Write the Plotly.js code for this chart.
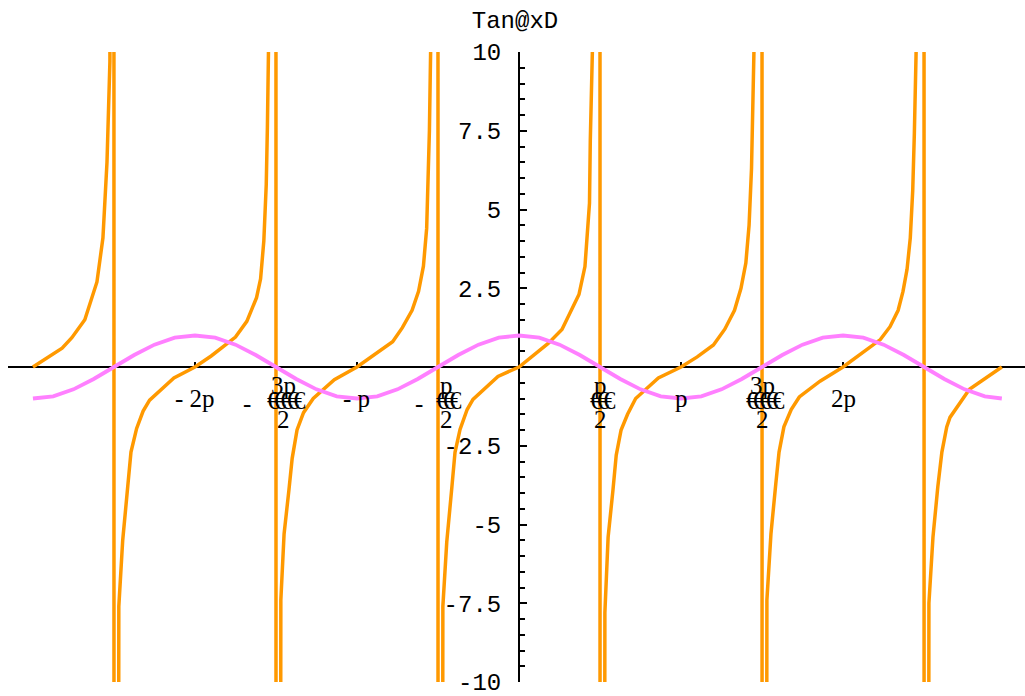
<!DOCTYPE html>
<html>
<head>
<meta charset="utf-8">
<script src="https://cdn.plot.ly/plotly-3.0.1.min.js"></script>
<style>body{margin:0;background:#fff}</style>
</head>
<body>
<div id="plot1"></div>
<script>
// x values are in units of pi
var tanX = [
  -3, -2.82, -2.76, -2.68, -2.605, -2.568, -2.543, -2.531, -2.525, -2.502,
  -2.498, -2.47, -2.446, -2.415, -2.395, -2.36, -2.32, -2.28, -2.13, -2,
  -1.9, -1.75, -1.68, -1.62, -1.595, -1.575, -1.56, -1.553, -1.548, -1.545, -1.502,
  -1.498, -1.47, -1.45, -1.42, -1.40, -1.37, -1.33, -1.27, -1.14, -1,
  -0.9, -0.78, -0.72, -0.66, -0.62, -0.59, -0.57, -0.56, -0.553, -0.548, -0.544, -0.502,
  -0.498, -0.47, -0.446, -0.414, -0.395, -0.364, -0.32, -0.284, -0.13, 0,
  0.093, 0.18, 0.265, 0.37, 0.407, 0.43, 0.435, 0.44, 0.447, 0.455, 0.498,
  0.502, 0.53, 0.55, 0.58, 0.60, 0.63, 0.67, 0.72, 0.86, 1,
  1.1, 1.2, 1.27, 1.33, 1.37, 1.40, 1.42, 1.435, 1.445, 1.452, 1.498,
  1.502, 1.53, 1.555, 1.585, 1.605, 1.635, 1.68, 1.73, 1.858, 2,
  2.086, 2.23, 2.29, 2.34, 2.37, 2.395, 2.415, 2.43, 2.44, 2.447, 2.453, 2.498,
  2.502, 2.53, 2.555, 2.585, 2.61, 2.64, 2.66, 2.78, 2.98
];
var tanY = [
  0, 0.6, 0.93, 1.5, 2.7, 4.1, 6.5, 8.6, 9.7, 150,
  -150, -7.6, -5.5, -3.8, -2.7, -1.95, -1.4, -1.05, -0.35, 0,
  0.35, 0.95, 1.45, 2.2, 2.8, 4.0, 5.8, 7.6, 9.0, 10.5, 150,
  -150, -7.4, -5.3, -3.9, -2.9, -2.0, -1.45, -1.0, -0.4, 0,
  0.35, 0.8, 1.25, 1.8, 2.4, 3.2, 4.4, 6.0, 7.5, 9.2, 10.5, 150,
  -150, -7.6, -5.56, -3.79, -2.71, -1.98, -1.35, -1.03, -0.30, 0,
  0.40, 0.75, 1.19, 2.3, 3.19, 4.67, 5.2, 7.2, 8.7, 10.5, 150,
  -150, -7.8, -5.4, -3.9, -2.8, -2.0, -1.5, -1.0, -0.35, 0,
  0.32, 0.7, 1.2, 1.8, 2.5, 3.3, 4.5, 6.3, 8.2, 10.5, 150,
  -150, -7.4, -5.3, -3.7, -2.7, -1.9, -1.35, -0.95, -0.45, 0,
  0.33, 0.87, 1.28, 1.8, 2.4, 3.1, 4.1, 5.6, 7.4, 8.8, 10.5, 150,
  -150, -7.5, -5.4, -3.8, -2.7, -1.9, -1.6, -0.71, 0
];

var cosX = [
  -3, -2.875, -2.75, -2.625, -2.5, -2.375, -2.25, -2.125, -2,
  -1.875, -1.75, -1.625, -1.5, -1.375, -1.25, -1.125, -1,
  -0.875, -0.75, -0.625, -0.5, -0.375, -0.25, -0.125, 0,
  0.125, 0.25, 0.375, 0.5, 0.625, 0.75, 0.875, 1,
  1.125, 1.25, 1.375, 1.5, 1.625, 1.75, 1.875, 2,
  2.125, 2.25, 2.375, 2.5, 2.625, 2.75, 2.875, 2.98
];
var cosY = [
  -1, -0.93, -0.71, -0.38, 0, 0.38, 0.71, 0.93, 1,
  0.93, 0.71, 0.38, 0, -0.38, -0.71, -0.93, -1,
  -0.93, -0.71, -0.38, 0, 0.38, 0.71, 0.93, 1,
  0.93, 0.71, 0.38, 0, -0.38, -0.71, -0.93, -1,
  -0.93, -0.71, -0.38, 0, 0.38, 0.71, 0.93, 1,
  0.93, 0.71, 0.38, 0, -0.38, -0.71, -0.93, -1
];

var yTicks = [-10, -7.5, -5, -2.5, 2.5, 5, 7.5, 10];
var yTickText = ['-10', '-7.5', '-5', '-2.5', '2.5', '5', '7.5', '10'];

var piVals = [-2, -1, 1, 2];
var piText = ['- 2p', '- p', 'p', '2p'];

var halfVals = [-1.5, -0.5, 0.5, 1.5];
var halfSign = ['-', '-', '', ''];
var halfNum = ['3p', 'p', 'p', '3p'];
var halfBar = ['€€€€€', '€€€', '€€€', '€€€€€'];
var halfDen = ['2', '2', '2', '2'];

var serif = {family: 'Liberation Serif', size: 25, color: 'black'};
var mono = {family: 'Liberation Mono', size: 24, color: 'black'};

var ann = [];
piVals.forEach(function(v, i) {
  ann.push({x: v, y: 0, xref: 'x', yref: 'y', text: piText[i], showarrow: false,
    font: serif, yanchor: 'middle', yshift: -31});
});
halfVals.forEach(function(v, i) {
  var dx = halfSign[i] ? 8 : 0;
  if (halfSign[i]) {
    ann.push({x: v, y: 0, xref: 'x', yref: 'y', text: halfSign[i], showarrow: false,
      font: serif, yanchor: 'middle', yshift: -36, xshift: halfNum[i].length > 1 ? -29 : -19});
  }
  ann.push({x: v, y: 0, xref: 'x', yref: 'y', text: halfNum[i], showarrow: false,
    font: serif, yanchor: 'middle', yshift: -18, xshift: dx});
  ann.push({x: v, y: 0, xref: 'x', yref: 'y',
    text: '<span style="letter-spacing:-6px">' + halfBar[i] + '</span>', showarrow: false,
    font: serif, yanchor: 'middle', yshift: -33, xshift: dx + 3});
  ann.push({x: v, y: 0, xref: 'x', yref: 'y', text: halfDen[i], showarrow: false,
    font: serif, yanchor: 'middle', yshift: -52, xshift: dx});
});

var tanTrace = {
  x: tanX, y: tanY, type: 'scatter', mode: 'lines', name: 'Tan',
  line: {color: 'rgb(255,153,0)', width: 3.5}
};
var cosTrace = {
  x: cosX, y: cosY, type: 'scatter', mode: 'lines', name: 'Cos',
  line: {color: 'rgb(255,128,255)', width: 3.8}
};

var xMin = -3.154, xMax = 3.123;

var layout = {
  width: 1025, height: 696,
  margin: {l: 8, r: 0, t: 52, b: 14},
  paper_bgcolor: 'white', plot_bgcolor: 'white',
  showlegend: false,
  title: {text: 'Tan@xD', font: mono, x: (0 - xMin) / (xMax - xMin), xanchor: 'center',
    y: 1 - 20 / 696, yanchor: 'middle'},
  xaxis: {
    range: [xMin, xMax], anchor: 'free', position: 0.5,
    showgrid: false, zeroline: false, showline: true, linecolor: 'black', linewidth: 2,
    tickmode: 'array', tickvals: piVals.concat(halfVals), showticklabels: false,
    ticks: 'inside', ticklen: 4, tickwidth: 2, tickcolor: 'black', layer: 'below traces'
  },
  yaxis: {
    range: [-10, 10], anchor: 'free', position: (0 - xMin) / (xMax - xMin),
    showgrid: false, zeroline: false, showline: true, linecolor: 'black', linewidth: 2,
    tickmode: 'array', tickvals: yTicks, ticktext: yTickText,
    ticks: 'inside', ticklen: 7, tickwidth: 2, tickcolor: 'black',
    tickfont: mono, ticklabelstandoff: 12, ticklabeloverflow: 'allow',
    layer: 'below traces',
    minor: {tickmode: 'linear', tick0: 0, dtick: 0.5, ticks: 'inside', ticklen: 5,
      tickwidth: 2, tickcolor: 'black', showgrid: false}
  },
  annotations: ann
};

Plotly.newPlot('plot1', [tanTrace, cosTrace], layout, {staticPlot: true});
</script>
</body>
</html>
